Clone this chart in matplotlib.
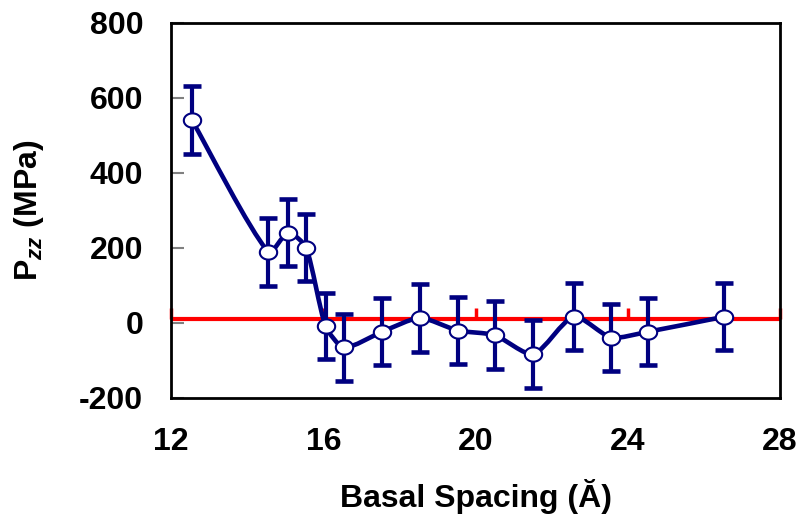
import numpy as np
import matplotlib
matplotlib.use("Agg")
import matplotlib.pyplot as plt
from matplotlib.path import Path
from matplotlib.patches import PathPatch

plt.rcParams['font.family'] = ['Liberation Sans', 'DejaVu Sans']
plt.rcParams['font.weight'] = 'bold'
plt.rcParams['axes.unicode_minus'] = False
plt.rcParams['mathtext.fontset'] = 'custom'
plt.rcParams['mathtext.rm'] = 'Liberation Sans:bold'
plt.rcParams['mathtext.it'] = 'Liberation Sans:bold:italic'

# basal spacing (A) and normal pressure P_zz (MPa)
spacing = [12.55, 14.56, 15.08, 15.55, 16.06, 16.55, 17.55, 18.54,
           19.53, 20.51, 21.52, 22.58, 23.56, 24.54, 26.54]
pzz = [540, 188, 240, 200, -9, -66, -24, 13, -21, -33, -84, 16, -40, -24, 16]
pzz_err = [90, 90, 90, 90, 88, 90, 90, 90, 90, 90, 90, 90, 90, 90, 90]

# red reference line
ref_x = [12, 16, 20, 24, 28]
ref_y = 10
ref_tick = 28

navy = '#000080'

fig = plt.figure(figsize=(8.01, 5.15), dpi=100)
ax = fig.add_axes([0.2135, 0.2278, 0.7603, 0.7281])
ax.set_xlim(12, 28)
ax.set_ylim(-200, 800)

# red line with small upward ticks
ax.plot([ref_x[0], ref_x[-1]], [ref_y, ref_y], color='red', lw=3, zorder=2,
        clip_on=False, solid_capstyle='butt')
ax.vlines(ref_x, ref_y, ref_y + ref_tick, color='red', lw=2.5, zorder=2,
          clip_on=False)

# smoothed line: bezier through the points, handles sized in screen space
pts = ax.transData.transform(np.column_stack([spacing, pzz]))
n = len(pts)
tang = []
for i in range(n):
    d = pts[min(i + 1, n - 1)] - pts[max(i - 1, 0)]
    tang.append(d / np.hypot(*d))
verts = [pts[0]]
codes = [Path.MOVETO]
for i in range(n - 1):
    L = np.hypot(*(pts[i + 1] - pts[i]))
    verts += [pts[i] + tang[i] * L * 0.2, pts[i + 1] - tang[i + 1] * L * 0.2,
              pts[i + 1]]
    codes += [Path.CURVE4] * 3
verts = ax.transData.inverted().transform(np.array(verts))
ax.add_patch(PathPatch(Path(verts, codes), facecolor='none', edgecolor=navy,
                       lw=3.3, zorder=3, capstyle='round', joinstyle='round'))

ax.errorbar(spacing, pzz, yerr=pzz_err, fmt='none', ecolor=navy,
            elinewidth=3, capsize=6.5, capthick=3.3, zorder=4)

t = np.linspace(0, 2 * np.pi, 60)
ellipse = Path(np.column_stack([np.cos(t), 0.82 * np.sin(t)]), closed=True)
ax.plot(spacing, pzz, ls='none', marker=ellipse, markersize=12.5,
        markerfacecolor='white', markeredgecolor=navy, markeredgewidth=1.5,
        zorder=5)

ax.set_xticks([12, 16, 20, 24, 28])
ax.set_yticks([-200, 0, 200, 400, 600, 800])
ax.tick_params(axis='x', length=0, pad=21, labelsize=23)
ax.tick_params(axis='y', direction='in', length=9, width=1.5, color='#808080',
               pad=20, labelsize=23)
for s in ax.spines.values():
    s.set_linewidth(2)
    s.set_color('black')

ax.set_xlabel('Basal Spacing (Ă)', fontsize=23, fontweight='bold', labelpad=16)
ax.set_ylabel(r'P$_{zz}$ (MPa)', fontsize=23, fontweight='bold', labelpad=24)

fig.savefig('out.png', dpi=100)
